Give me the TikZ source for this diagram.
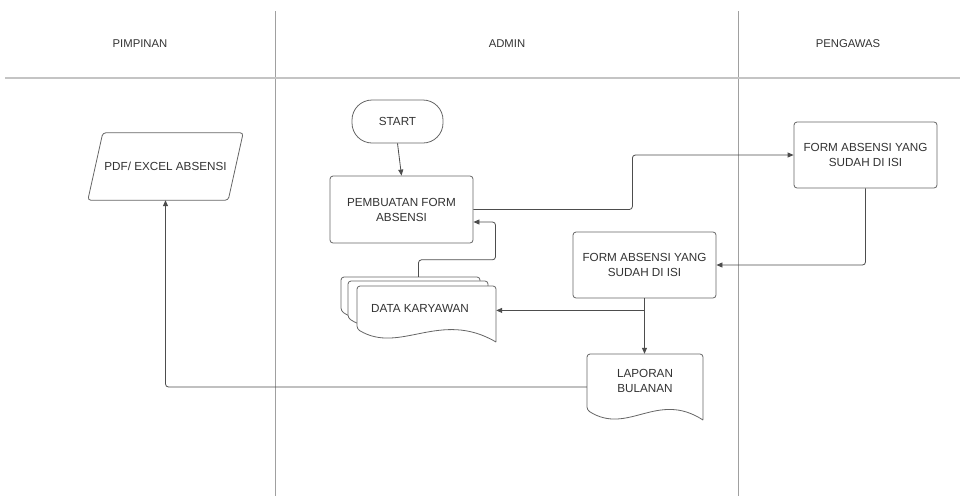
\documentclass[tikz,border=0pt]{standalone}
\usepackage{fontspec}
\setmainfont{Liberation Sans}
\usetikzlibrary{arrows.meta,calc}
\definecolor{txt}{HTML}{333333}
\definecolor{boxc}{HTML}{666666}
\definecolor{connc}{HTML}{4d4d4d}
\definecolor{lanec}{HTML}{a0a0a0}
\definecolor{headc}{HTML}{c4c4c4}
\tikzset{
  lbl/.style={text=txt, font=\fontsize{11.7}{15}\selectfont, align=center, inner sep=0pt},
  procbox/.style={lbl, draw=boxc, line width=0.8pt, rounded corners=3pt, fill=white},
  shapeline/.style={draw=boxc, line width=0.8pt, fill=white},
  conn/.style={draw=connc, line width=0.8pt, rounded corners=3pt, -{Triangle[length=6pt,width=5pt]}},
  lane/.style={draw=lanec, line width=0.7pt},
  hdr/.style={text=txt, font=\fontsize{11.3}{13}\selectfont},
}
\begin{document}
\begin{tikzpicture}[x=1pt,y=-1pt]
\useasboundingbox (0,0) rectangle (960,496);
\fill[white] (0,0) rectangle (960,496);

% swimlanes
\coordinate (l1t) at (275,11); \coordinate (l1b) at (275,496);
\coordinate (l2t) at (738,11); \coordinate (l2b) at (738,496);
\coordinate (hl) at (5,78); \coordinate (hr) at (960,78);
\draw[lane] (l1t) -- (l1b);
\draw[lane] (l2t) -- (l2b);
\draw[draw=headc, line width=1.6pt] (hl) -- (hr);
\node[hdr] (h1) at (140,44) {PIMPINAN};
\node[hdr] (h2) at (507,44) {ADMIN};
\node[hdr] (h3) at (848,44) {PENGAWAS};

% START
\node[procbox, rounded corners=20pt, minimum width=91pt, minimum height=43pt] (start) at (397.5,121.5) {START};
% Pembuatan form
\node[procbox, minimum width=143pt, minimum height=67pt] (pemb) at (401.5,209.5) {PEMBUATAN FORM\\ABSENSI};
% Form right
\node[procbox, minimum width=143pt, minimum height=66pt] (formR) at (865.5,155) {FORM ABSENSI YANG\\SUDAH DI ISI};
% Form left
\node[procbox, minimum width=143pt, minimum height=66pt] (formL) at (644.5,265) {FORM ABSENSI YANG\\SUDAH DI ISI};

% PDF parallelogram
\node[inner sep=0pt, minimum width=155pt, minimum height=67pt] (pdf) at (165.5,166.5) {};
\draw[shapeline, rounded corners=3pt] ($(pdf.north west)+(15,0)$) -- (pdf.north east) -- ($(pdf.south east)+(-15,0)$) -- (pdf.south west) -- cycle;
\node[lbl] (pdft) at (pdf.center) {PDF/ EXCEL ABSENSI};

% Data karyawan (stacked documents)
\node[inner sep=0pt, minimum width=155pt, minimum height=65pt] (data) at (418.5,309.5) {};
\draw[shapeline, rounded corners=3pt] (480,323) -- (480,277) -- (341,277) -- (341,311) [sharp corners] .. controls (380,337) and (420,291) .. (480,323);
\draw[shapeline, rounded corners=3pt] (488,328) -- (488,281) -- (348,281) -- (348,318) [sharp corners] .. controls (388,344) and (428,298) .. (488,328);
\draw[shapeline, rounded corners=3pt] (496,342) -- (496,286) -- (357,286) -- (357,329) [sharp corners] .. controls (400,355) and (440,309) .. (496,342);
\node[lbl] (datat) at (420,308) {DATA KARYAWAN};

% Laporan bulanan
\node[inner sep=0pt, minimum width=116pt, minimum height=66pt] (lap) at (645,387) {};
\draw[shapeline, rounded corners=3pt] (703,420) -- (703,354) -- (587,354) -- (587,410) [sharp corners] .. controls (628,436) and (657,390) .. (703,420);
\node[lbl] (lapt) at (645,381) {LAPORAN\\BULANAN};

% connectors
\draw[conn] (start.south) -- (pemb.north);
\draw[conn] (pemb.east) -- ++(159,0) |- (formR.west);
\draw[conn] (formR.south) |- (formL.east);
\draw[conn] (formL.south) -- (formL.south |- lap.north);
\coordinate (br) at ($(formL.south)+(0,12)$);
\draw[conn] (br) -- (br -| data.east);
\draw[conn] (data.north) -- ++(0,-17) -- ++(77,0) |- ($(pemb.east)+(0,12.5)$);
\draw[conn] (lap.west) -| (pdf.south);
\end{tikzpicture}
\end{document}
